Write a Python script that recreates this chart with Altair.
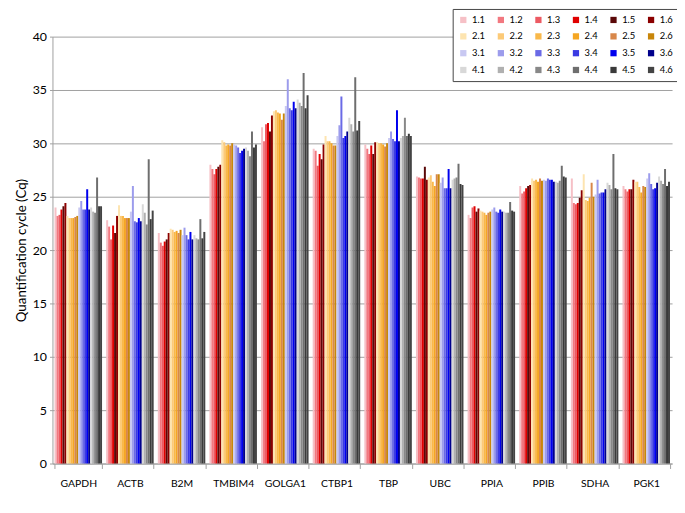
import altair as alt
import pandas as pd

genes = ["GAPDH", "ACTB", "B2M", "TMBIM4", "GOLGA1", "CTBP1", "TBP", "UBC", "PPIA", "PPIB", "SDHA", "PGK1"]
series = ["1.1", "1.2", "1.3", "1.4", "1.5", "1.6",
          "2.1", "2.2", "2.3", "2.4", "2.5", "2.6",
          "3.1", "3.2", "3.3", "3.4", "3.5", "3.6",
          "4.1", "4.2", "4.3", "4.4", "4.5", "4.6"]
colors = ["#f6c0c6", "#f27880", "#ec5a62", "#e00000", "#5a0808", "#8b0000",
          "#fde4b0", "#fcca78", "#f9b84a", "#f5a623", "#d8874a", "#c8860a",
          "#c8c8f2", "#9c9cec", "#6a6ae6", "#3a3ae2", "#0000ee", "#00008b",
          "#d8d8d8", "#b0b0b0", "#888888", "#6e6e6e", "#3a3a3a", "#444444"]

GAPDH = [24.0, 23.2, 23.3, 23.8, 24.1, 24.4, 23.2, 23.0, 23.0, 23.0, 23.1, 23.2,
         24.0, 24.6, 23.8, 23.8, 25.7, 23.8, 24.0, 23.6, 23.5, 26.8, 24.1, 24.1]
ACTB = [22.8, 22.2, 21.0, 22.3, 21.6, 23.2, 24.2, 23.2, 23.2, 23.0, 23.0, 23.0,
        23.6, 26.0, 22.7, 22.6, 23.0, 22.7, 24.3, 23.5, 22.4, 28.5, 22.9, 23.7]
B2M = [21.6, 20.7, 20.4, 20.8, 21.0, 21.6, 22.0, 21.9, 21.7, 21.8, 21.6, 21.9,
       21.4, 22.1, 21.4, 21.0, 21.7, 21.0, 21.4, 21.1, 21.0, 22.9, 21.1, 21.7]
TMBIM4 = [28.0, 27.6, 27.1, 27.6, 27.8, 28.0, 30.3, 30.1, 29.8, 29.9, 29.8, 30.0,
          29.9, 29.8, 29.6, 29.1, 29.3, 29.5, 29.6, 29.3, 28.8, 31.1, 29.6, 29.9]
GOLGA1 = [31.5, 30.2, 31.8, 31.9, 31.1, 32.6, 33.0, 33.1, 32.9, 32.8, 32.2, 32.8,
          33.5, 36.0, 33.3, 33.1, 33.9, 33.3, 34.1, 33.8, 33.5, 36.6, 33.3, 34.5]
CTBP1 = [29.5, 29.3, 27.9, 29.0, 28.5, 29.9, 30.7, 30.2, 30.2, 30.0, 29.8, 29.8,
         30.7, 31.7, 34.4, 30.5, 30.7, 31.1, 32.4, 31.8, 31.1, 36.2, 31.2, 32.1]
TBP = [29.9, 29.5, 29.0, 29.8, 29.0, 30.1, 30.1, 30.0, 30.0, 29.9, 29.7, 30.0,
       30.5, 31.1, 30.4, 30.2, 33.1, 30.2, 30.5, 30.7, 32.4, 30.7, 30.9, 30.7]
UBC = [26.9, 26.8, 26.7, 26.7, 27.8, 26.6, 26.8, 27.0, 26.4, 26.0, 27.1, 27.1,
       26.3, 26.8, 25.8, 25.8, 27.6, 25.8, 26.6, 26.7, 26.8, 28.1, 26.2, 26.1]
PPIA = [23.3, 23.0, 24.0, 24.1, 23.6, 23.9, 23.7, 23.6, 23.5, 23.3, 23.5, 23.6,
        23.8, 24.0, 23.6, 23.5, 23.8, 23.6, 23.6, 23.5, 23.5, 24.5, 23.7, 23.6]
PPIB = [26.0, 25.3, 25.5, 25.8, 26.0, 26.1, 26.7, 26.5, 26.6, 26.4, 26.7, 26.5,
        26.6, 26.5, 26.7, 26.6, 26.6, 26.4, 26.4, 26.3, 26.5, 27.9, 26.9, 26.8]
SDHA = [26.7, 24.4, 24.3, 24.4, 24.9, 25.6, 27.1, 24.7, 24.6, 24.9, 26.3, 25.0,
        25.2, 26.6, 25.3, 25.4, 25.4, 25.7, 26.3, 26.1, 25.7, 29.0, 25.8, 25.7]
PGK1 = [26.0, 25.7, 25.5, 25.7, 25.7, 26.6, 26.4, 26.4, 25.9, 25.4, 26.0, 25.9,
        26.7, 27.2, 26.2, 25.7, 25.8, 26.3, 26.9, 26.5, 26.2, 27.6, 26.0, 26.4]

values = [GAPDH, ACTB, B2M, TMBIM4, GOLGA1, CTBP1, TBP, UBC, PPIA, PPIB, SDHA, PGK1]

rows = []
for g, vals in zip(genes, values):
    for s, v in zip(series, vals):
        rows.append({"gene": g, "series": s, "cq": v})
df = pd.DataFrame(rows)

FONT = "Lato"

bars = alt.Chart(df).mark_bar().encode(
    x=alt.X("gene:N", sort=genes,
            scale=alt.Scale(paddingInner=0.08, paddingOuter=0.04),
            axis=alt.Axis(title=None, labelAngle=0, tickBand="extent", tickSize=5,
                          tickColor="#a0a0a0", domainColor="#a0a0a0",
                          labelPadding=10, labelFontSize=10.5, labelColor="#000",
                          labelFont=FONT)),
    xOffset=alt.XOffset("series:N", sort=series,
                        scale=alt.Scale(paddingInner=0, paddingOuter=0)),
    y=alt.Y("cq:Q", scale=alt.Scale(domain=[0, 40], nice=False),
            axis=alt.Axis(title="Quantification cycle (Cq)", values=list(range(0, 41, 5)),
                          grid=True, gridColor="#a0a0a0", domainColor="#a0a0a0",
                          tickColor="#a0a0a0", tickSize=3, labelFontSize=12.5,
                          labelColor="#000", labelPadding=3, labelFont=FONT,
                          titleFont=FONT, titleFontSize=13.5, titleFontWeight="normal",
                          titleColor="#000", titlePadding=4)),
    color=alt.Color("series:N", sort=series,
                    scale=alt.Scale(domain=series, range=colors),
                    legend=alt.Legend(title=None, orient="none", legendX=405, legendY=-28,
                                      direction="horizontal",
                                      columns=6, symbolType="square", symbolSize=40,
                                      symbolStrokeWidth=0, labelFontSize=9.5,
                                      labelFont=FONT, labelColor="#000",
                                      labelOffset=4, columnPadding=11, rowPadding=6,
                                      padding=6, strokeColor="#444",
                                      fillColor="white")),
)

chart = bars.properties(
    width=627, height=432,
    autosize=alt.AutoSizeParams(type="none"),
    padding={"left": 45, "top": 26, "right": 5, "bottom": 39},
).configure_view(stroke=None).configure_axis(gridWidth=1)

chart.save("out.html", embed_options={"renderer": "svg", "actions": False})
